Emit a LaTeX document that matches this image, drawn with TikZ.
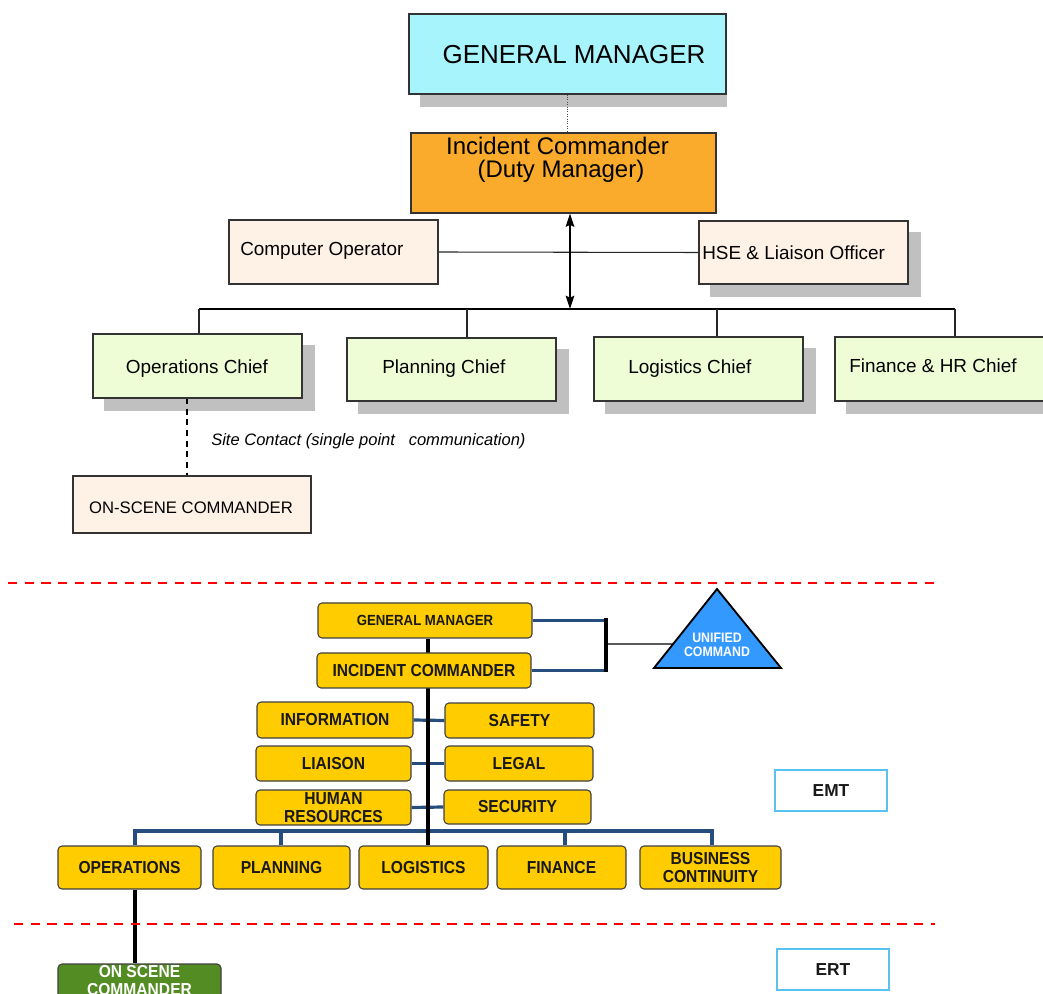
\documentclass[tikz,border=0pt]{standalone}
\usepackage{fontspec}
\setmainfont{Liberation Sans}
\newfontfamily\narrowsans[FakeStretch=0.9]{Liberation Sans}
\usetikzlibrary{fit,calc,arrows.meta}

\definecolor{gmcyan}{HTML}{A8F4FC}
\definecolor{icorange}{HTML}{FBAB2B}
\definecolor{staffpeach}{HTML}{FEF1E6}
\definecolor{chiefgreen}{HTML}{EFFDD6}
\definecolor{shadowgray}{HTML}{C0C0C0}
\definecolor{emtyellow}{HTML}{FFCC00}
\definecolor{linkblue}{HTML}{254E7E}
\definecolor{ucblue}{HTML}{3399FF}
\definecolor{osgreen}{HTML}{548C24}
\definecolor{tagblue}{HTML}{58C2F0}
\definecolor{zonered}{HTML}{FF0000}

\pgfdeclarelayer{shade}
\pgfdeclarelayer{under}
\pgfdeclarelayer{over}
\pgfsetlayers{shade,under,over,main}

\newcommand\castshadow[1]{%
  \begin{pgfonlayer}{shade}
    \fill[shadowgray] ($(#1.north west)+(12,12)$) rectangle ($(#1.south east)+(12,12)$);
  \end{pgfonlayer}}

\begin{document}
\begin{tikzpicture}[x=0.75pt, y=-0.75pt,
  topbox/.style={draw=black!80, line width=0.8pt, inner sep=0pt},
  txt/.style={inner sep=0pt, text=black},
  chieffont/.style={txt, anchor=base west, font=\fontsize{14.2}{17}\selectfont},
  thinlink/.style={draw=black!85, line width=0.8pt},
  ybox/.style={draw=black!75, fill=emtyellow, rounded corners=3pt, line width=0.8pt, inner sep=0pt},
  ytext/.style={inner sep=0pt, align=center, text=black!90,
    font=\narrowsans\bfseries\fontsize{13}{13.5}\selectfont},
  blueline/.style={draw=linkblue, line width=2.4pt, line join=miter},
  trunkline/.style={draw=black, line width=3pt},
  tagbox/.style={draw=tagblue, line width=1.3pt, fill=white, inner sep=0pt},
  tagtext/.style={inner sep=0pt, text=black!90, font=\bfseries\fontsize{13}{15}\selectfont},
  zone/.style={draw=zonered, line width=2pt, dash pattern=on 7pt off 5.5pt}
]
\useasboundingbox (0,0) rectangle (1043,994);
\clip (0,0) rectangle (1043,994);

% ---------- upper chart ----------
\node[topbox, fill=gmcyan, fit={(409,14) (726,94)}] (gm) {};
\begin{pgfonlayer}{shade}
  \fill[shadowgray] ($(gm.north west)+(12,12)$) rectangle ($(gm.south east)+(0,12)$);
\end{pgfonlayer}
\node[txt, anchor=base, font=\fontsize{19.5}{22}\selectfont] (gmtext) at (574,64) {GENERAL MANAGER};

\node[topbox, fill=icorange, fit={(411,133) (716,213)}] (ic) {};
\node[txt, anchor=base, font=\fontsize{18}{18}\selectfont] (ictextA) at (557.5,155) {Incident Commander};
\node[txt, anchor=base, font=\fontsize{18}{18}\selectfont] (ictextB) at (561,178) {(Duty Manager)};

\node[topbox, fill=staffpeach, fit={(229,220) (438,284)}] (co) {};
\node[chieffont] (cotext) at (240,256) {Computer Operator};

\node[topbox, fill=staffpeach, fit={(699,221) (908,284)}] (hse) {};
\castshadow{hse}
\node[chieffont] (hsetext) at (702,260) {HSE \& Liaison Officer};

\node[topbox, fill=chiefgreen, fit={(93,334) (302,398)}] (ops) {};
\castshadow{ops}
\node[chieffont, anchor=base] (opstext) at (197,374) {Operations Chief};

\node[topbox, fill=chiefgreen, fit={(347,338) (556,401)}] (plan) {};
\castshadow{plan}
\node[chieffont] (plantext) at (382,373.5) {Planning Chief};

\node[topbox, fill=chiefgreen, fit={(594,337) (803,401)}] (logi) {};
\castshadow{logi}
\node[chieffont] (logitext) at (628,373.5) {Logistics Chief};

\node[topbox, fill=chiefgreen, fit={(835,337) (1046,401)}] (fin) {};
\castshadow{fin}
\node[chieffont] (fintext) at (849,372.5) {Finance \& HR Chief};

\node[topbox, fill=staffpeach, fit={(73,476) (311,533)}] (osc) {};
\node[txt, anchor=base, font=\fontsize{12.5}{14}\selectfont] (osctext) at (191,514) {ON-SCENE COMMANDER};

\node[txt, anchor=base west, font=\itshape\fontsize{12.4}{14}\selectfont] (sitetext) at (211,446)
  {Site Contact (single point\hspace{10.3pt}communication)};

\coordinate (busL) at (199,309);
\coordinate (busM) at (570,309);
\coordinate (busR) at (955,309);
\coordinate (dropP) at (467,309);
\coordinate (dropL) at (717,309);
\coordinate (sitex) at (187,398);

\begin{pgfonlayer}{over}
  \draw[draw=black!70, densely dotted, line width=0.8pt] (gm.south) -- (gm.south |- ic.north);
  \draw[thinlink] (co.east) -- (hse.west);
  \draw[black, line width=1pt, {Stealth[length=10pt,width=6.5pt,inset=1.5pt]}-{Stealth[length=10pt,width=6.5pt,inset=1.5pt]}]
    (ic.south -| busM) -- (busM);
  \draw[black, line width=1.9pt] (busL) -- (busR);
  \draw[thinlink] (busL) -- (busL |- ops.north);
  \draw[thinlink] (dropP) -- (dropP |- plan.north);
  \draw[thinlink] (dropL) -- (dropL |- logi.north);
  \draw[thinlink] (busR) -- (busR |- fin.north);
  \draw[black, line width=0.8pt, dash pattern=on 4.5pt off 3.5pt] (sitex) -- (sitex |- osc.north);
\end{pgfonlayer}

% ---------- zone separators ----------
\draw[zone] (8,583) -- (935,583);
\draw[zone] (14,924) -- (935,924);

% ---------- lower chart ----------
\node[ybox, fit={(318,603) (532,638)}] (gm2) {};
\node[ybox, fit={(317,653) (531,688)}] (ic2) {};
\node[ybox, fit={(257,702) (413,738)}] (info) {};
\node[ybox, fit={(445,703) (594,738)}] (safety) {};
\node[ybox, fit={(256,746) (411,781)}] (liaison) {};
\node[ybox, fit={(445,746) (593,781)}] (legal) {};
\node[ybox, fit={(256,790) (411,825)}] (hr) {};
\node[ybox, fit={(444,790) (591,824)}] (security) {};
\node[ybox, fit={(58,846) (201,889)}] (opsE) {};
\node[ybox, fit={(213,846) (350,889)}] (planE) {};
\node[ybox, fit={(359,846) (488,889)}] (logE) {};
\node[ybox, fit={(497,846) (626,889)}] (finE) {};
\node[ybox, fit={(640,846) (781,889)}] (bcE) {};
\node[ybox, fill=osgreen, fit={(58,964) (221,998)}] (osc2) {};

\node[ytext, font=\narrowsans\bfseries\fontsize{11}{12}\selectfont] (gm2t) at (gm2.center) {GENERAL MANAGER};
\node[ytext] (ic2t) at (ic2.center) {INCIDENT COMMANDER};
\node[ytext] (infot) at (info.center) {INFORMATION};
\node[ytext] (safetyt) at (safety.center) {SAFETY};
\node[ytext] (liaisont) at (liaison.center) {LIAISON};
\node[ytext] (legalt) at (legal.center) {LEGAL};
\node[ytext] (hrt) at (hr.center) {HUMAN\\RESOURCES};
\node[ytext] (securityt) at (security.center) {SECURITY};
\node[ytext] (opsEt) at (opsE.center) {OPERATIONS};
\node[ytext] (planEt) at (planE.center) {PLANNING};
\node[ytext] (logEt) at (logE.center) {LOGISTICS};
\node[ytext] (finEt) at (finE.center) {FINANCE};
\node[ytext] (bcEt) at (bcE.center) {BUSINESS\\CONTINUITY};
\node[ytext, text=white] (osc2t) at (osc2.center) {ON SCENE\\COMMANDER};

\coordinate (ucA) at (717,589);
\coordinate (ucL) at (654,668);
\coordinate (ucR) at (781,668);
\filldraw[fill=ucblue, draw=black, line width=1.4pt, line join=miter] (ucA) -- (ucR) -- (ucL) -- cycle;
\node[txt, align=center, text=white, font=\narrowsans\bfseries\fontsize{10.3}{10.5}\selectfont] (uc) at (717,645) {UNIFIED\\COMMAND};
\coordinate (ucedge) at ($(ucA)!0.696!(ucL)$);

\node[tagbox, fit={(775,770) (887,811)}] (emt) {};
\node[tagtext] (emtt) at (emt.center) {EMT};
\node[tagbox, fit={(777,949) (889,990)}] (ert) {};
\node[tagtext] (ertt) at (ert.center) {ERT};

\coordinate (brk) at (606,644);
\coordinate (tk) at (428,638);
\coordinate (d1) at (135,831);
\coordinate (d2) at (281,831);
\coordinate (d4) at (565,831);
\coordinate (d5) at (712,831);

\begin{pgfonlayer}{under}
  \draw[blueline] (gm2.east) -- (gm2.east -| brk);
  \draw[blueline] (ic2.east) -- (ic2.east -| brk);
  \draw[blueline] (info.east) -- (safety.west);
  \draw[blueline] (liaison.east) -- (legal.west);
  \draw[blueline] (hr.east) -- (security.west);
  \draw[blueline] (opsE.north -| d1) -- (d1) -- (d5) -- (bcE.north -| d5);
  \draw[blueline] (d2) -- (planE.north -| d2);
  \draw[blueline] (d4) -- (finE.north -| d4);
\end{pgfonlayer}
\begin{pgfonlayer}{over}
  \draw[trunkline] (gm2.south -| tk) -- (logE.north -| tk);
  \draw[black, line width=2.6pt] ($(gm2.east -| brk)+(0,-2)$) -- ($(ic2.east -| brk)+(0,2)$);
  \draw[black, line width=0.8pt] (brk) -- (ucedge);
  \draw[trunkline] (opsE.south -| d1) -- (osc2.north -| d1);
\end{pgfonlayer}
\end{tikzpicture}
\end{document}
